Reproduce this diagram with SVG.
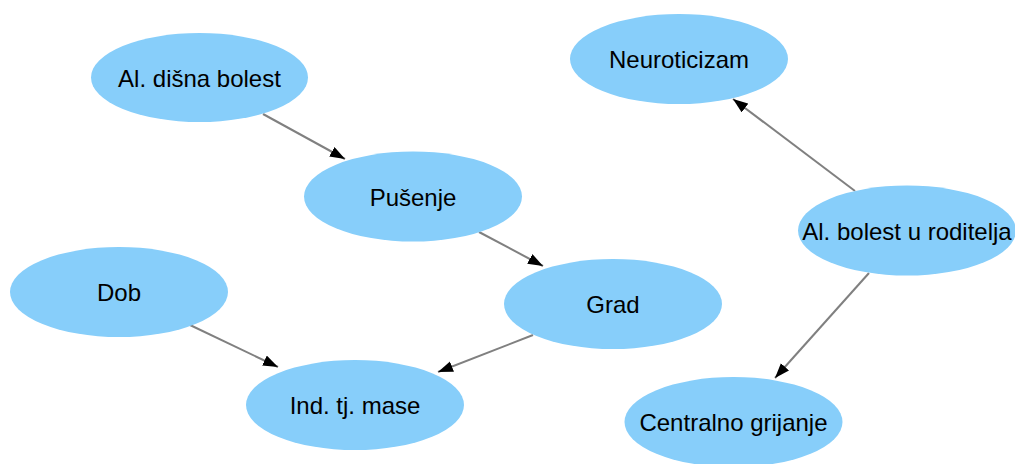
<svg xmlns="http://www.w3.org/2000/svg" width="1015" height="464" viewBox="0 0 1015 464">
<style>
.node ellipse{fill:#87CEFA;stroke:none}
.node text{font-family:"Liberation Sans",Arial,sans-serif;font-size:24px;fill:#000;text-anchor:middle;dominant-baseline:central}
.edge{stroke:#808080;stroke-width:2;fill:none;marker-end:url(#arr)}
</style>
<defs>
<marker id="arr" markerUnits="userSpaceOnUse" markerWidth="16" markerHeight="12" refX="15" refY="5.5" orient="auto">
<path d="M0,0 L15,5.5 L0,11 z" fill="#000"/>
</marker>
</defs>
<rect width="1015" height="464" fill="#fff"/>
<g id="connectors">
<line class="edge" x1="263" y1="114" x2="345" y2="159"/>
<line class="edge" x1="479" y1="232" x2="543" y2="266"/>
<line class="edge" x1="190" y1="325" x2="278" y2="367"/>
<line class="edge" x1="533" y1="335" x2="438" y2="372"/>
<line class="edge" x1="855" y1="191" x2="733" y2="99"/>
<line class="edge" x1="869" y1="273" x2="775" y2="378"/>
</g>
<g id="n_dishna" class="node"><ellipse cx="199.5" cy="77.5" rx="108.5" ry="44.5"/><text x="199.5" y="78">Al. dišna bolest</text></g>
<g id="n_pusenje" class="node"><ellipse cx="413" cy="196.5" rx="109" ry="45"/><text x="413" y="197">Pušenje</text></g>
<g id="n_dob" class="node"><ellipse cx="119" cy="292" rx="109" ry="45"/><text x="119" y="292">Dob</text></g>
<g id="n_grad" class="node"><ellipse cx="613" cy="304" rx="109" ry="45"/><text x="613" y="304">Grad</text></g>
<g id="n_itm" class="node"><ellipse cx="355" cy="405" rx="109" ry="45"/><text x="355" y="405">Ind. tj. mase</text></g>
<g id="n_neuro" class="node"><ellipse cx="679" cy="59" rx="109" ry="45"/><text x="679" y="59">Neuroticizam</text></g>
<g id="n_roditelj" class="node"><ellipse cx="907" cy="230.5" rx="109" ry="45"/><text x="907" y="231">Al. bolest u roditelja</text></g>
<g id="n_grijanje" class="node"><ellipse cx="733.5" cy="422" rx="109" ry="45"/><text x="733.5" y="422">Centralno grijanje</text></g>
</svg>
